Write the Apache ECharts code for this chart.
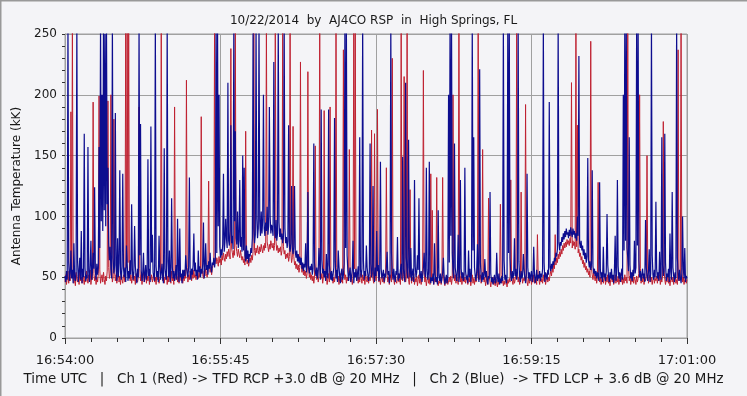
<!DOCTYPE html>
<html>
<head>
<meta charset="utf-8">
<script src="https://cdn.jsdelivr.net/npm/echarts@6/dist/echarts.min.js"></script>
<style>
html,body{margin:0;padding:0;background:#f4f4f7;}
#chart{width:747px;height:396px;}
</style>
</head>
<body>
<div id="chart"></div>
<script>
// Samples every half second after 16:54:00 UTC
var sampleStep = 0.5;
var xTickLabels = ['16:54:00', '16:55:45', '16:57:30', '16:59:15', '17:01:00'];
var yTickLabels = [0, 50, 100, 150, 200, 250];

// Ch 2 (Blue) - TFD LCP antenna temperature (kK)
var ch2Blue = [
51,46,55,48,260,62,47,53,72,49, 56,45,78,50,47,54,260,63,46,55, 66,48,88,45,57,50,168,58,47,52, 49,157,55,46,60,80,48,54,70,57,
124,55,48,61,52,58,157,74,260,96, 200,88,260,105,250,92,260,110,140,78, 64,75,57,49,260,66,53,60,185,58, 47,82,50,62,138,54,48,59,135,57,
50,58,46,76,61,47,55,49,64,52, 110,56,48,54,92,59,51,45,57,50, 260,68,176,55,47,53,70,46,52,60, 48,55,147,51,57,46,174,62,85,54,
53,47,260,59,50,55,46,84,58,48, 54,61,49,45,156,57,51,48,260,63, 50,72,46,53,115,58,49,55,47,52, 60,48,98,54,46,90,50,53,45,56,
49,56,51,68,58,53,50,59,132,55, 48,57,52,60,86,55,62,51,56,48, 72,54,59,50,57,53,61,95,49,58, 78,56,60,52,63,57,70,58,54,62,
60,66,58,64,260,70,260,92,200,75, 66,73,68,77,135,71,79,98,82,74, 210,80,76,88,175,78,84,73,260,96, 170,82,77,104,74,80,130,75,83,71,
150,72,140,68,63,76,65,72,62,69, 67,74,70,82,260,89,78,85,260,98, 82,90,260,96,84,104,86,97,200,90, 84,95,88,108,85,92,190,100,86,93,
90,84,227,92,82,97,80,86,260,95, 83,90,81,86,78,84,260,90,78,83, 74,80,175,76,71,78,125,74,69,75, 125,71,66,72,63,69,62,67,60,66,
57,62,55,61,58,78,54,60,120,58, 53,59,56,61,52,57,160,62,55,51, 58,49,56,74,59,48,188,64,53,57, 50,55,47,69,52,49,188,60,54,48,
55,47,52,58,181,63,49,56,46,72, 59,50,45,54,57,48,52,61,260,74, 260,68,55,47,53,58,46,51,56,80, 45,54,50,57,47,53,59,48,165,56,
50,57,260,64,48,55,51,76,58,52, 47,54,160,61,50,56,125,53,46,58, 51,88,55,60,47,53,145,57,49,52, 56,46,53,50,58,71,52,55,45,51,
260,70,54,48,57,50,46,55,52,83, 47,53,49,56,61,48,149,57,51,46, 210,66,54,49,163,58,50,74,47,53, 57,46,130,59,50,54,68,56,115,52,
49,55,46,52,58,70,53,50,140,56, 48,54,145,51,45,50,47,53,44,78, 52,46,50,44,105,51,47,53,45,49, 54,66,51,44,48,52,45,50,200,62,
260,84,260,70,55,49,160,58,52,47, 56,85,46,53,130,57,49,54,47,52, 140,55,48,51,45,72,50,57,46,53, 260,72,165,58,51,47,55,77,53,46,
221,62,50,46,54,48,52,65,50,55, 47,44,51,49,120,53,46,50,44,48, 52,45,47,70,50,46,53,44,49,45, 51,47,260,64,48,52,45,50,260,70,
260,66,52,47,55,49,53,82,51,57, 48,54,260,63,50,46,55,49,52,69, 56,50,45,53,135,58,49,54,47,52, 55,46,51,75,53,45,50,56,47,52,
49,55,47,53,50,57,260,62,46,54, 51,48,56,52,194,58,55,61,57,63, 60,66,63,70,67,73,260,78,72,79, 76,83,79,86,81,88,83,90,85,87,
82,89,84,91,86,83,90,85,88,82, 86,80,100,84,232,78,74,80,72,76, 68,73,65,70,62,67,148,64,58,63, 56,61,138,59,53,57,51,55,49,54,
52,47,128,56,49,54,46,75,50,53, 47,55,102,60,51,46,54,49,57,48, 52,45,56,84,47,53,130,59,49,54, 46,52,57,48,200,72,260,80,260,74,
66,55,165,60,49,54,47,56,51,80, 53,58,260,76,260,64,50,55,47,52, 57,49,53,46,97,58,51,47,55,73, 46,53,260,68,52,48,56,50,112,57,
49,54,47,71,52,48,165,60,51,55, 168,62,47,53,50,57,46,86,55,48, 120,58,51,46,54,49,260,66,53,47, 56,50,45,53,100,57,49,74,46,51,
49
];

// Ch 1 (Red) - TFD RCP antenna temperature (kK)
var ch1Red = [
46,52,44,49,55,45,51,47,186,53, 260,58,45,50,43,54,48,46,52,44, 57,47,50,45,53,48,44,51,46,55, 49,45,52,47,56,44,50,48,194,53,
47,51,44,50,46,53,199,56,45,49, 52,46,54,48,44,51,47,55,195,58, 49,53,200,57,46,50,180,54,47,52, 45,50,56,46,51,44,53,48,45,52,
50,46,260,58,260,62,260,55,47,52, 45,49,54,47,51,44,53,48,46,50, 190,57,47,52,44,50,55,46,49,53, 45,51,47,54,44,50,48,52,46,49,
53,46,50,44,52,48,55,45,49,51, 260,60,47,53,45,50,48,54,44,51, 46,52,49,45,55,47,50,44,190,57, 48,53,46,51,45,54,49,47,52,45,
50,47,54,49,212,58,46,52,48,55, 51,47,53,49,56,50,52,48,55,51, 49,54,50,57,182,59,52,49,55,51, 57,53,50,56,129,60,54,58,52,57,
58,64,260,68,61,66,63,59,67,62, 65,60,68,64,70,66,63,69,65,71, 67,73,69,65,238,74,70,66,72,68, 260,76,71,67,73,69,66,72,68,64,
67,62,65,60,170,66,61,64,59,63, 66,62,68,64,71,260,72,68,74,70, 76,72,69,75,71,77,73,70,76,72, 78,74,260,79,75,71,77,73,80,76,
74,78,72,76,260,79,72,76,70,74, 71,75,68,72,260,75,69,72,65,69, 66,70,63,67,260,70,62,66,174,67, 60,63,57,61,56,60,54,58,227,60,
54,58,52,56,51,55,49,53,219,58, 50,54,48,52,47,51,45,50,158,55, 48,52,46,51,260,56,49,53,45,50, 187,54,47,51,44,49,53,46,190,55,
48,52,45,50,46,53,260,58,47,51, 44,49,53,46,50,45,237,56,48,52, 45,50,47,53,155,54,46,51,44,49, 260,57,260,55,47,52,45,50,46,53,
49,45,52,47,50,44,53,48,46,51, 45,50,47,52,171,55,48,45,168,54, 47,51,188,56,46,50,44,49,52,46, 50,45,48,53,140,52,46,50,44,49,
52,46,230,55,48,44,51,47,45,50, 53,46,49,44,260,58,47,52,215,54, 46,50,260,57,48,44,122,52,45,50, 47,53,44,49,46,51,43,48,52,45,
49,44,47,52,220,54,46,50,43,48, 51,45,49,44,135,50,105,47,44,49, 46,51,132,48,43,47,45,50,44,48, 132,52,46,43,49,45,51,44,47,50,
46,51,44,49,200,55,47,52,45,50, 48,44,260,57,46,51,44,49,53,46, 50,45,48,52,44,49,46,51,43,48, 52,45,49,44,50,46,48,53,260,58,
48,52,45,49,155,53,46,50,43,47, 51,44,115,50,46,42,48,45,50,44, 47,43,49,45,42,48,44,50,110,52, 45,49,43,47,44,50,46,42,48,45,
49,46,130,52,47,44,50,45,48,53, 260,56,46,50,44,48,120,51,45,49, 47,52,192,54,46,43,50,45,48,51, 44,49,46,52,45,48,50,44,85,53,
48,44,51,46,49,45,52,47,50,44, 48,53,46,50,47,52,55,51,58,54, 61,57,85,60,66,62,69,65,71,67, 73,69,76,72,78,74,79,75,81,77,
80,76,82,78,210,74,80,76,79,73, 260,75,175,70,73,67,70,64,67,61, 64,58,62,56,59,54,57,52,55,50, 244,57,52,48,54,50,47,52,45,50,
128,52,46,50,44,49,53,45,48,51, 44,50,46,52,45,49,43,48,51,46, 50,44,47,52,45,49,46,51,44,48, 53,46,50,44,49,45,52,47,50,45,
260,58,47,51,44,49,46,52,45,50, 48,44,51,46,49,53,200,57,45,50, 46,52,44,49,47,51,150,54,45,49, 52,46,50,44,48,53,45,49,47,51,
45,50,47,52,44,49,46,51,178,56, 48,44,50,46,52,45,49,43,48,51, 46,50,44,49,53,45,48,44,237,55, 47,51,260,58,46,50,44,48,52,45,
48
];

function toPairs(arr) {
  var out = [];
  for (var i = 0; i < arr.length; i++) out.push([i * sampleStep, arr[i]]);
  return out;
}

var FONT = 'DejaVu Sans';
var chart = echarts.init(document.getElementById('chart'), null, {renderer: 'canvas'});
chart.setOption({
  animation: false,
  backgroundColor: '#f4f4f7',
  textStyle: {fontFamily: FONT},
  title: {
    text: '10/22/2014  by  AJ4CO RSP  in  High Springs, FL',
    left: 'center', top: 10,
    textStyle: {fontFamily: FONT, fontSize: 12, fontWeight: 'normal', color: '#1a1a1a'}
  },
  grid: {left: 65, right: 60, top: 34, bottom: 58, show: true, borderColor: '#a0a0a0', borderWidth: 1, backgroundColor: '#f4f4f7'},
  xAxis: {
    type: 'value', min: 0, max: 420, interval: 105,
    axisLine: {show: true, lineStyle: {color: '#a0a0a0'}},
    axisTick: {show: true, length: 6, lineStyle: {color: '#333'}},
    minorTick: {show: true, splitNumber: 6, length: 4, lineStyle: {color: '#333'}},
    splitLine: {show: true, lineStyle: {color: '#a0a0a0', width: 1}},
    axisLabel: {margin: 16, fontSize: 13, color: '#1a1a1a', fontFamily: FONT,
      formatter: function (v) { return xTickLabels[Math.round(v / 105)]; }}
  },
  yAxis: {
    type: 'value', min: 0, max: 250, interval: 50,
    name: 'Antenna Temperature (kK)', nameLocation: 'middle', nameGap: 37, nameRotate: 90,
    nameTextStyle: {fontSize: 12, color: '#1a1a1a', fontFamily: FONT},
    axisLine: {show: true, lineStyle: {color: '#a0a0a0'}},
    axisTick: {show: true, length: 3, lineStyle: {color: '#333'}},
    minorTick: {show: true, splitNumber: 5, length: 3, lineStyle: {color: '#333'}},
    splitLine: {show: true, lineStyle: {color: '#a0a0a0', width: 1}},
    axisLabel: {margin: 8, fontSize: 12, color: '#1a1a1a', fontFamily: FONT,
      formatter: function (v) { return yTickLabels.indexOf(v) >= 0 ? String(v) : ''; }}
  },
  graphic: [
    {type: 'text', left: 'center', top: 373, style: {
      text: 'Time UTC   |   Ch 1 (Red) -> TFD RCP +3.0 dB @ 20 MHz   |   Ch 2 (Blue)  -> TFD LCP + 3.6 dB @ 20 MHz',
      font: '13.4px "DejaVu Sans"', fill: '#1a1a1a'}},
    {type: 'line', shape: {x1: 0.5, y1: 0, x2: 0.5, y2: 396}, style: {stroke: '#999', lineWidth: 2}},
    {type: 'line', shape: {x1: 0, y1: 0.5, x2: 747, y2: 0.5}, style: {stroke: '#999', lineWidth: 2}}
  ],
  series: [
    {name: 'Ch 1 (Red)', type: 'line', data: toPairs(ch1Red), showSymbol: false, symbol: 'none', sampling: null,
      lineStyle: {color: '#bf2232', width: 1}, clip: true, z: 2},
    {name: 'Ch 2 (Blue)', type: 'line', data: toPairs(ch2Blue), showSymbol: false, symbol: 'none', sampling: null,
      lineStyle: {color: '#0d0d8f', width: 1.2}, clip: true, z: 3}
  ]
});
</script>
</body>
</html>
